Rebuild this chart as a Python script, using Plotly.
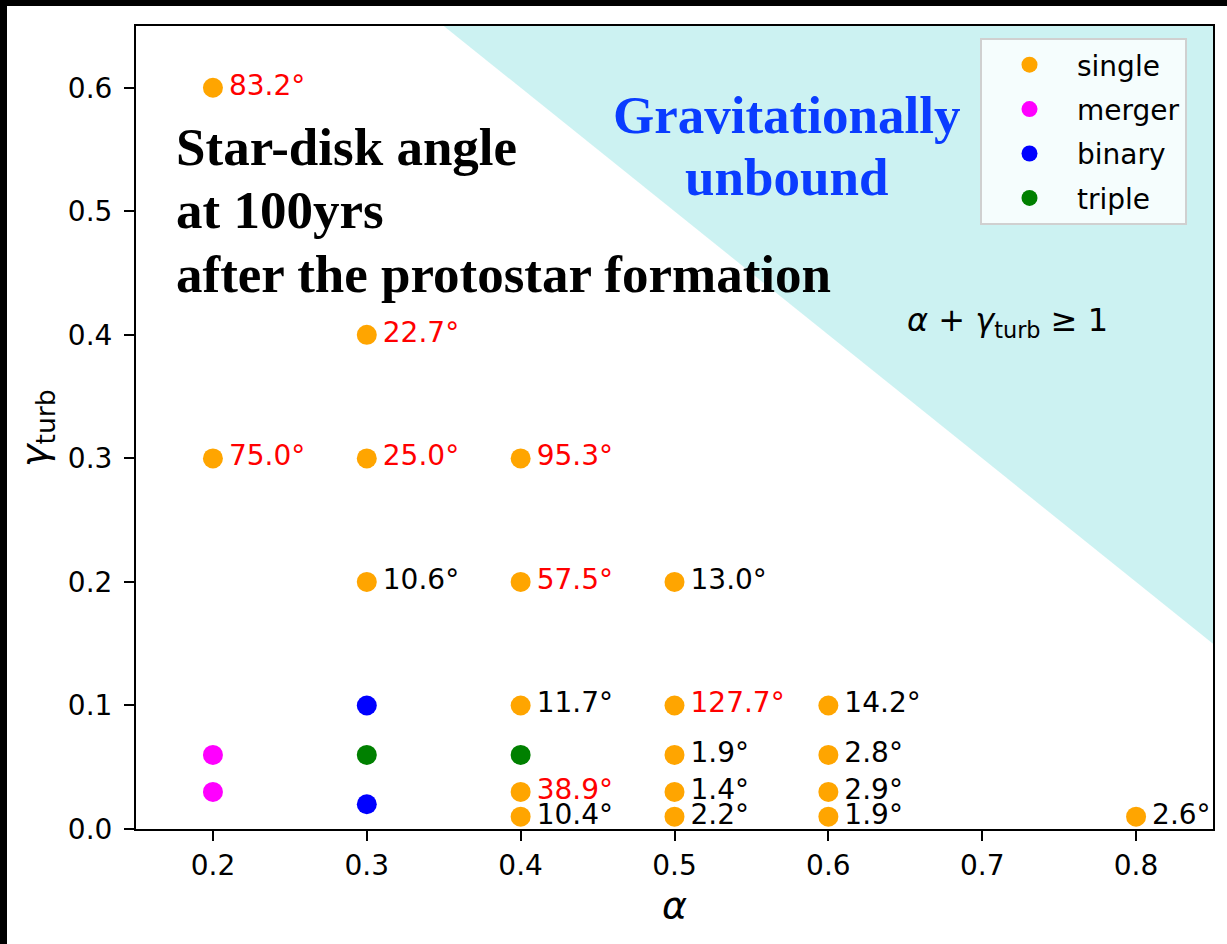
import plotly.graph_objects as go

# ---------------- data ----------------
single_alpha = [0.2, 0.3, 0.2, 0.3, 0.4, 0.3, 0.4, 0.5, 0.4, 0.5, 0.6, 0.5, 0.6, 0.4, 0.5, 0.6, 0.4, 0.5, 0.6, 0.8]
single_gamma = [0.6, 0.4, 0.3, 0.3, 0.3, 0.2, 0.2, 0.2, 0.1, 0.1, 0.1, 0.06, 0.06, 0.03, 0.03, 0.03, 0.01, 0.01, 0.01, 0.01]
single_angle = [83.2, 22.7, 75.0, 25.0, 95.3, 10.6, 57.5, 13.0, 11.7, 127.7, 14.2, 1.9, 2.8, 38.9, 1.4, 2.9, 10.4, 2.2, 1.9, 2.6]
single_misaligned = [True, True, True, True, True, False, True, False, False, True, False, False, False, True, False, False, False, False, False, False]

merger_alpha = [0.2, 0.2]
merger_gamma = [0.06, 0.03]
binary_alpha = [0.3, 0.3]
binary_gamma = [0.1, 0.02]
triple_alpha = [0.3, 0.4]
triple_gamma = [0.06, 0.06]

x_range = [0.15, 0.85]
y_range = [0.0, 0.65]
x_ticks = [0.2, 0.3, 0.4, 0.5, 0.6, 0.7, 0.8]
y_ticks = [0.0, 0.1, 0.2, 0.3, 0.4, 0.5, 0.6]

# ---------------- figure ----------------
W, H = 1227, 944
ML, MR, MT, MB = 136, 14, 26, 115
pw, ph = W - ML - MR, H - MT - MB


def px2x(px):
    return x_range[0] + (px - ML) / pw * (x_range[1] - x_range[0])


def py2y(py):
    return y_range[0] + (H - MB - py) / ph * (y_range[1] - y_range[0])


fig = go.Figure()

# unbound region: alpha + gamma >= 1
fig.add_trace(go.Scatter(
    x=[1 - y_range[1], x_range[1], x_range[1]],
    y=[y_range[1], y_range[1], 1 - x_range[1]],
    fill="toself", fillcolor="rgba(0,191,191,0.2)",
    line=dict(width=0), mode="lines", showlegend=False, hoverinfo="skip",
))

msize = 20
series = [
    ("single", single_alpha, single_gamma, "#FFA500"),
    ("merger", merger_alpha, merger_gamma, "#FF00FF"),
    ("binary", binary_alpha, binary_gamma, "#0000FF"),
    ("triple", triple_alpha, triple_gamma, "#008000"),
]
for name, xs, ys, col in series:
    fig.add_trace(go.Scatter(x=xs, y=ys, mode="markers", name=name, legendgroup=name,
                             marker=dict(color=col, size=msize)))

# angle labels (shifted right of the markers by a fixed pixel offset)
dx = 16 / pw * (x_range[1] - x_range[0])
fig.add_trace(go.Scatter(
    x=[a + dx for a in single_alpha], y=single_gamma, mode="text",
    text=[f"{a:.1f}°" for a in single_angle],
    textposition="middle right",
    textfont=dict(family="DejaVu Sans", size=28,
                  color=["#FF0000" if m else "#000000" for m in single_misaligned]),
    showlegend=False, hoverinfo="skip",
))

serif = "Liberation Serif"
title_lines = ["Star-disk angle", "at 100yrs", "after the protostar formation"]
title_centers = [147, 210, 274]
for t, cy in zip(title_lines, title_centers):
    fig.add_annotation(x=px2x(174), y=py2y(cy), xref="x", yref="y", text=f"<b>{t}</b>",
                       showarrow=False, xanchor="left", yanchor="middle",
                       font=dict(family=serif, size=53, color="black"))

for t, cy in zip(["Gravitationally", "unbound"], [115, 177]):
    fig.add_annotation(x=px2x(786), y=py2y(cy), xref="x", yref="y", text=f"<b>{t}</b>",
                       showarrow=False, xanchor="center", yanchor="middle",
                       font=dict(family=serif, size=53, color="#0A3CFF"))

fig.add_annotation(x=px2x(905), y=py2y(322), xref="x", yref="y",
                   text="<i>α</i> + <i>γ</i><sub>turb</sub> ≥ 1",
                   showarrow=False, xanchor="left", yanchor="middle",
                   font=dict(family="DejaVu Sans", size=32, color="black"))

# axis titles
fig.add_annotation(x=(674 - ML) / pw, y=-(905 - (H - MB)) / ph, xref="paper", yref="paper",
                   text="<i>α</i>", showarrow=False, xanchor="center", yanchor="middle",
                   font=dict(family="DejaVu Sans", size=38, color="black"))
fig.add_annotation(x=-(ML - 36) / pw, y=(H - MB - 428) / ph, xref="paper", yref="paper",
                   text="<i>γ</i><sub>turb</sub>", textangle=-90, showarrow=False,
                   xanchor="center", yanchor="middle",
                   font=dict(family="DejaVu Sans", size=38, color="black"))

# black frame edges of the original picture
fig.add_shape(type="rect", xref="paper", yref="paper",
              x0=-ML / pw - 0.01, x1=(7 - ML) / pw, y0=-MB / ph - 0.01, y1=1 + MT / ph + 0.01,
              fillcolor="black", line=dict(width=0), layer="above")
fig.add_shape(type="rect", xref="paper", yref="paper",
              x0=-ML / pw - 0.01, x1=1 + MR / pw + 0.01, y0=1 + (MT - 6) / ph, y1=1 + MT / ph + 0.01,
              fillcolor="black", line=dict(width=0), layer="above")

axis_common = dict(showgrid=False, zeroline=False, showline=True, linecolor="black", linewidth=2,
                   mirror=True, ticks="outside", ticklen=10, tickwidth=2, tickcolor="black",
                   tickfont=dict(family="DejaVu Sans", size=28, color="black"))

fig.update_layout(
    width=W, height=H,
    margin=dict(l=ML, r=MR, t=MT, b=MB),
    paper_bgcolor="white", plot_bgcolor="white",
    font=dict(family="DejaVu Sans", color="black"),
    xaxis=dict(range=x_range, tickvals=x_ticks, ticktext=[f"{v:.1f}" for v in x_ticks],
               **axis_common),
    yaxis=dict(range=y_range, tickvals=y_ticks, ticktext=[f"{v:.1f}" for v in y_ticks],
               ticklabelstandoff=6, **axis_common),
    legend=dict(x=(980 - ML) / pw, y=(H - MB - 38) / ph, xanchor="left", yanchor="top",
                bgcolor="rgba(255,255,255,0.8)", bordercolor="#D0D0D0", borderwidth=2,
                font=dict(family="DejaVu Sans", size=28, color="black"),
                itemwidth=85, tracegroupgap=5, traceorder="grouped"),
    showlegend=True,
)

fig.write_html("out.html")
